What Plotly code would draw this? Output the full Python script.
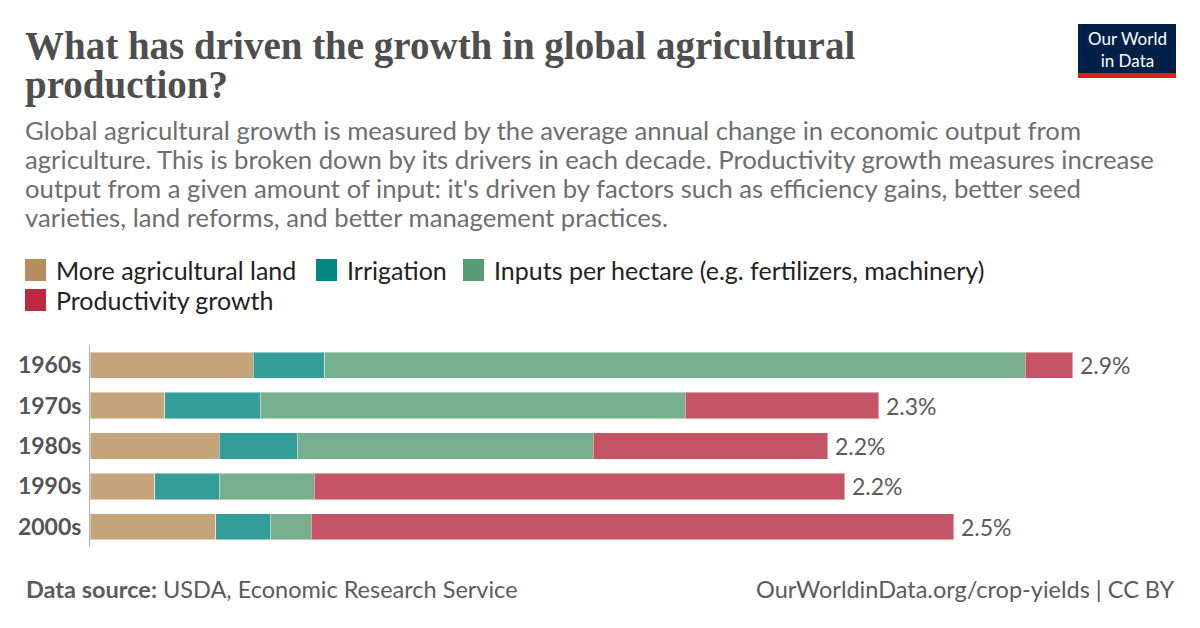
import plotly.graph_objects as go

decades = ["1960s", "1970s", "1980s", "1990s", "2000s"]
land = [0.48, 0.22, 0.38, 0.19, 0.37]
irrigation = [0.21, 0.28, 0.23, 0.19, 0.16]
inputs = [2.06, 1.25, 0.87, 0.28, 0.12]
productivity = [0.14, 0.57, 0.69, 1.56, 1.89]

series_names = ["More agricultural land", "Irrigation",
                "Inputs per hectare (e.g. fertilizers, machinery)", "Productivity growth"]
series_values = [land, irrigation, inputs, productivity]
bar_colors = ["#C5A47C", "#339E99", "#77AF8F", "#C55566"]
legend_colors = ["#B68D5F", "#00877F", "#579E77", "#BC2A42"]

W, H = 1200, 628
L, R, T, B = 90, 25, 345, 81
px_per_unit = 340.0
xmax = (W - L - R) / px_per_unit

fig = go.Figure()
for name, vals, col in zip(series_names, series_values, bar_colors):
    fig.add_trace(go.Bar(
        y=decades, x=vals, name=name, orientation="h",
        marker=dict(color=col, line=dict(color="rgba(255,255,255,0.45)", width=1)),
        showlegend=False, hoverinfo="x+name",
    ))

totals = [sum(v) for v in zip(*series_values)]
annotations = []
for d, t in zip(decades, totals):
    annotations.append(dict(x=t, y=d, xref="x", yref="y", text=f"{t:.1f}%",
                            showarrow=False, xanchor="left", yanchor="middle", xshift=5,
                            font=dict(family="Lato", size=23, color="#5b5b5b")))


def px_x(x):
    return (x - L) / (W - L - R)


def px_y(y):
    return (H - B - y) / (H - T - B)


title_lines = ["What has driven the growth in global agricultural", "production?"]
title_y = [46, 85]
sub_lines = [
    "Global agricultural growth is measured by the average annual change in economic output from",
    "agriculture. This is broken down by its drivers in each decade. Productivity growth measures increase",
    "output from a given amount of input: it's driven by factors such as efficiency gains, better seed",
    "varieties, land reforms, and better management practices.",
]
sub_y = [130, 159, 188, 217]

for txt, y in zip(title_lines, title_y):
    annotations.append(dict(x=px_x(23), y=px_y(y), xref="paper", yref="paper", text=f"<b>{txt}</b>",
                            showarrow=False, xanchor="left", yanchor="middle",
                            font=dict(family="Liberation Serif", size=39, color="#4e4e4e")))
for txt, y in zip(sub_lines, sub_y):
    annotations.append(dict(x=px_x(23), y=px_y(y), xref="paper", yref="paper", text=txt,
                            showarrow=False, xanchor="left", yanchor="middle",
                            font=dict(family="Lato", size=25.7, color="#6e6e6e")))

# Legend (manual)
shapes = []
leg_items = [(25, 270, 0), (316, 270, 1), (463, 270, 2), (25, 300, 3)]
for x0, yc, i in leg_items:
    shapes.append(dict(type="rect", xref="paper", yref="paper",
                       x0=px_x(x0), x1=px_x(x0 + 21), y0=px_y(yc + 11), y1=px_y(yc - 11),
                       fillcolor=legend_colors[i], line=dict(width=0)))
    annotations.append(dict(x=px_x(x0 + 29), y=px_y(yc), xref="paper", yref="paper",
                            text=series_names[i], showarrow=False, xanchor="left", yanchor="middle",
                            font=dict(family="Lato", size=25, color="#222222")))

# Logo
shapes.append(dict(type="rect", xref="paper", yref="paper", x0=px_x(1078), x1=px_x(1176),
                   y0=px_y(73), y1=px_y(24), fillcolor="#002147", line=dict(width=0)))
shapes.append(dict(type="rect", xref="paper", yref="paper", x0=px_x(1078), x1=px_x(1176),
                   y0=px_y(78), y1=px_y(73), fillcolor="#CE261E", line=dict(width=0)))
annotations.append(dict(x=px_x(1127), y=px_y(49), xref="paper", yref="paper",
                        text="Our World<br>in Data", align="center",
                        showarrow=False, xanchor="center", yanchor="middle", borderpad=0,
                        font=dict(family="Lato", size=17, color="white")))

# Footer
annotations.append(dict(x=px_x(24), y=px_y(589), xref="paper", yref="paper",
                        text="<b>Data source:</b> USDA, Economic Research Service",
                        showarrow=False, xanchor="left", yanchor="middle",
                        font=dict(family="Lato", size=23.5, color="#5b5b5b")))
annotations.append(dict(x=px_x(1176), y=px_y(589), xref="paper", yref="paper",
                        text="OurWorldinData.org/crop-yields | CC BY",
                        showarrow=False, xanchor="right", yanchor="middle",
                        font=dict(family="Lato", size=23.5, color="#5b5b5b")))

fig.update_layout(
    width=W, height=H, barmode="stack", bargap=0.35,
    margin=dict(l=L, r=R, t=T, b=B, autoexpand=False),
    paper_bgcolor="white", plot_bgcolor="white",
    xaxis=dict(range=[0, xmax], visible=False, fixedrange=True),
    yaxis=dict(categoryorder="array", categoryarray=decades, autorange="reversed",
               showline=True, linecolor="#b0b0b0", linewidth=1, showgrid=False,
               ticks="", ticklabelstandoff=3, fixedrange=True,
               tickfont=dict(family="Lato", size=23, color="#555555", weight="bold")),
    annotations=annotations, shapes=shapes, showlegend=False,
)

fig.write_html("out.html", config={"displayModeBar": False},
               post_script="document.body.style.margin='0';")
